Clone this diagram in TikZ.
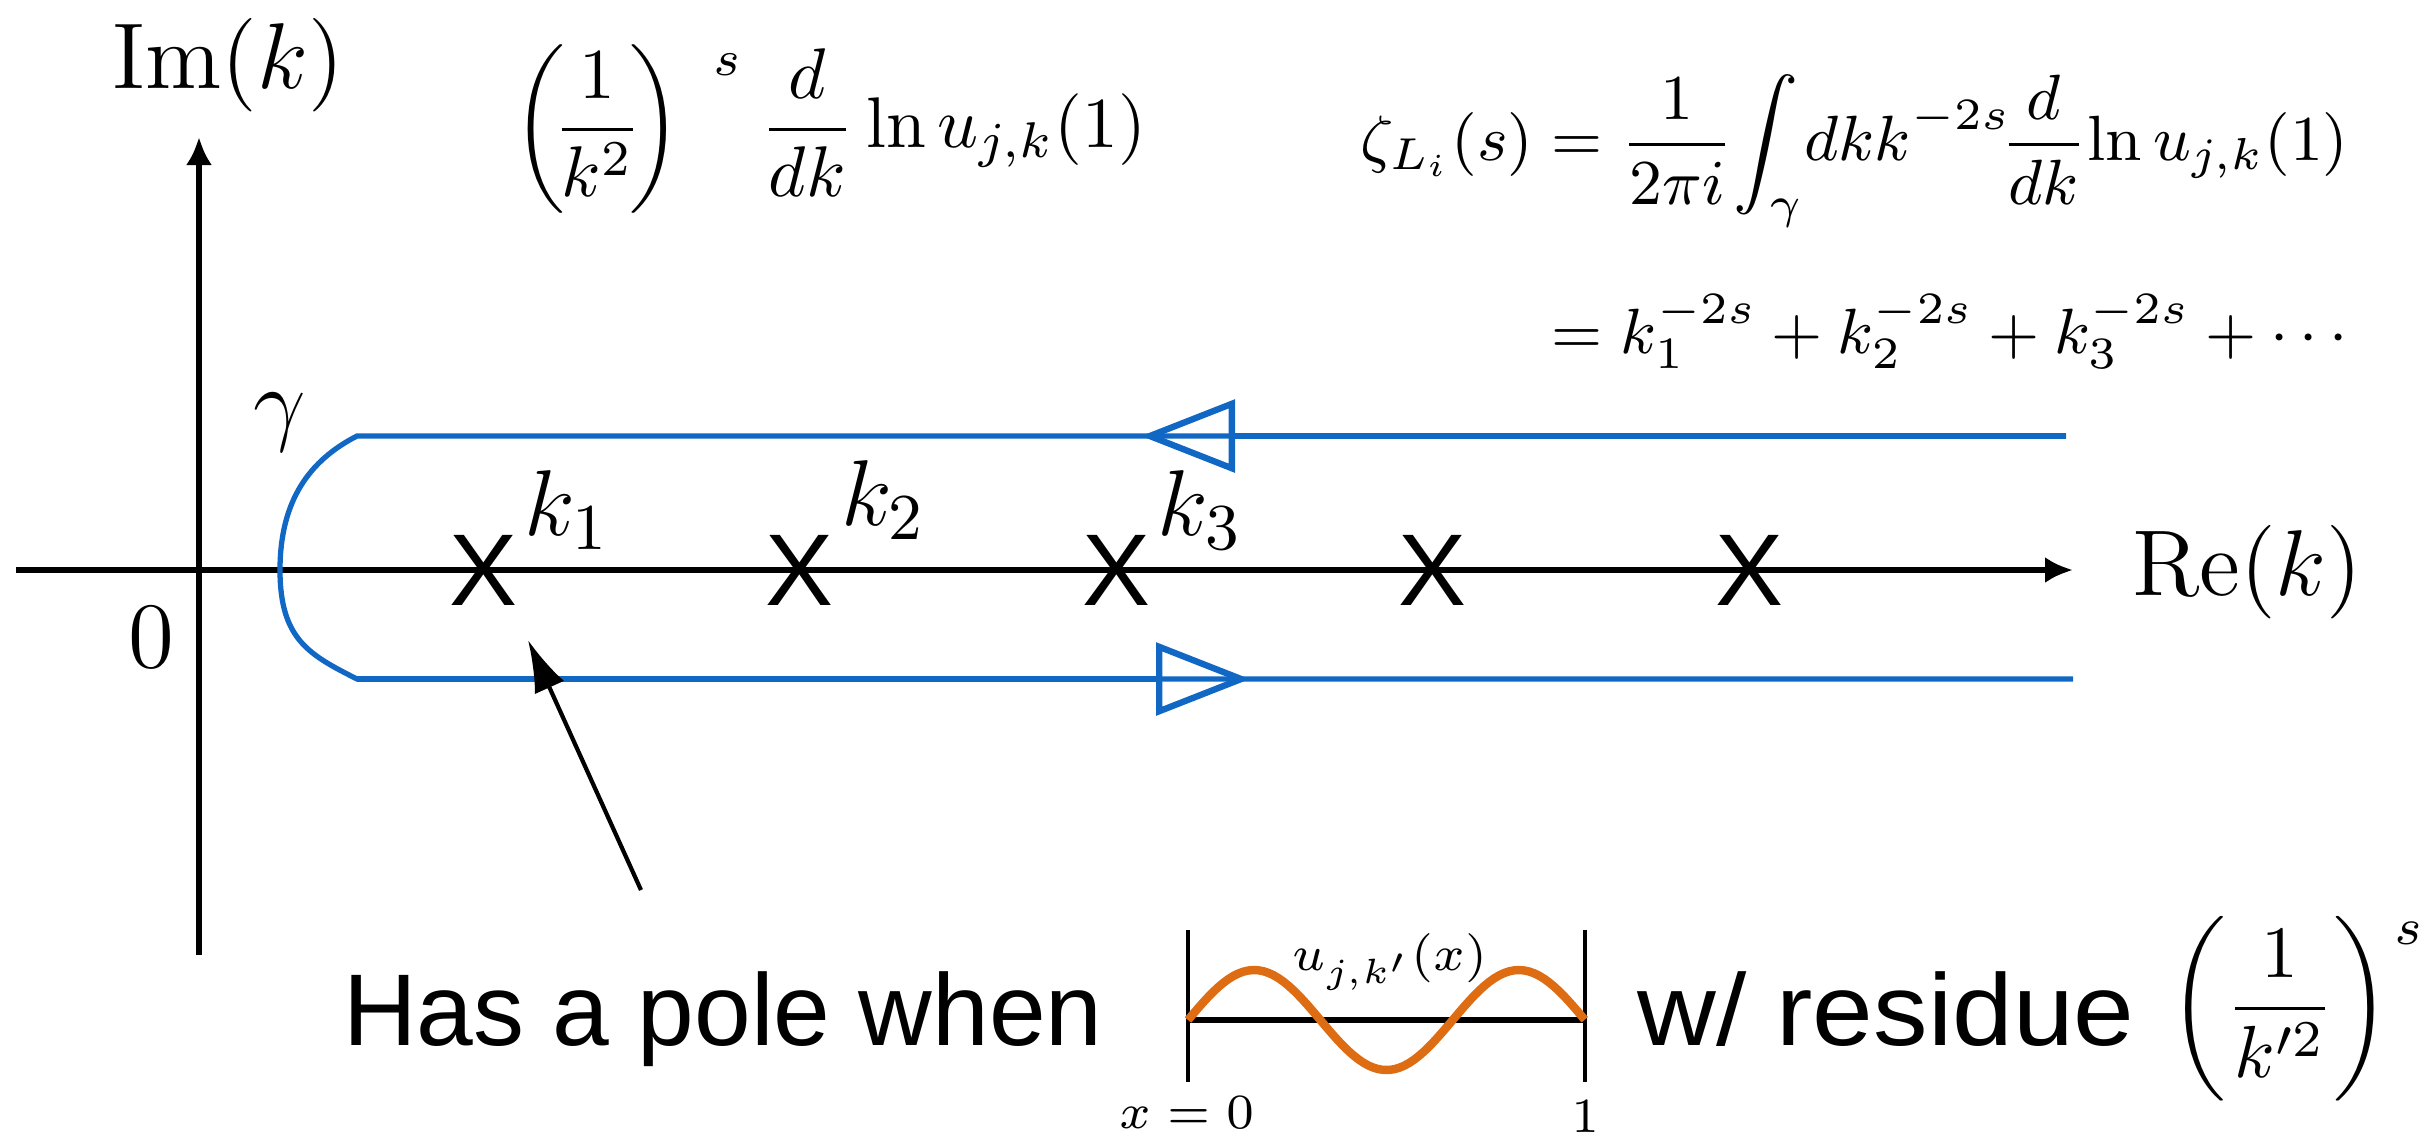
\RequirePackage{fix-cm}
\documentclass[tikz,border=0pt]{standalone}
\usepackage{amsmath}
\usepackage{graphicx}
\usepackage{fontspec}
\newfontfamily\helv{Liberation Sans}
\usetikzlibrary{arrows.meta}
\definecolor{contourblue}{RGB}{16,103,196}
\definecolor{waveorange}{RGB}{222,108,18}
\newcommand{\supS}[1]{\raisebox{#1}{$\scriptstyle s$}}
\begin{document}
\begin{tikzpicture}
[x=0.5cm,y=-0.5cm,
 axis/.style={line width=0.75pt,-{Latex[length=1.4mm,width=1.3mm]}},
 contour/.style={contourblue,line width=0.75pt},
 opentip/.style={-{Triangle[open,length=4.7mm,width=3.6mm,line width=0.9pt]}},
 lbl/.style={inner sep=0pt,font=\fontsize{13.3}{16}\selectfont},
 sans/.style={inner sep=0pt,font=\fontsize{14.5}{17}\selectfont\helv},
 small/.style={inner sep=0pt,font=\fontsize{7}{8.5}\selectfont}]
\useasboundingbox (0,0) rectangle (24.35,11.35);
\def \n {5}
\def \gap {3.165}
% axes
\coordinate (xl) at (0.16,5.70);
\coordinate (xr) at (20.73,5.70);
\coordinate (yb) at (1.99,9.55);
\coordinate (yt) at (1.99,1.37);
\draw[axis] (xl) -- (xr);
\draw[axis] (yb) -- (yt);
\node[lbl] (im) at (2.28,0.65) {Im$(k)$};
\node[lbl] (re) at (22.47,5.72) {Re$(k)$};
\node[lbl] (zero) at (1.51,6.37) {$0$};
% contour gamma
\coordinate (ur) at (20.66,4.36);
\coordinate (ul) at (3.57,4.36);
\coordinate (lf) at (2.80,5.70);
\coordinate (ll) at (3.57,6.79);
\coordinate (lr) at (20.73,6.79);
\coordinate (ua) at (11.41,4.36);
\coordinate (la) at (12.50,6.79);
\draw[contour] (ur) -- (ul) .. controls (3.10,4.60) and (2.80,5.00) .. (lf)
  .. controls (2.80,6.40) and (3.10,6.55) .. (ll) -- (lr);
\draw[contour,opentip] (ur) -- (ua);
\draw[contour,opentip] (ll) -- (la);
\node[lbl] (gam) at (2.80,4.22) {$\gamma$};
% poles
\foreach \i in {1,...,\n}
{
  \node[sans] (x\i) at ({4.83+\gap*(\i-1)},5.70) {X};
}
\foreach \i/\dy in {1/0,2/-0.1,3/0}
{
  \node[lbl] (k\i) at ({5.67+\gap*(\i-1)},5.10+\dy) {$k_{\i}$};
}
% formulas
\node[inner sep=0pt,font=\fontsize{10.2}{12}\selectfont,anchor=base west] (integrand) at (5.12,1.47)
  {$\displaystyle\left(\!\frac{1}{k^2}\!\right)\mkern5mu\supS{1.0em}\mkern5mu\frac{d}{dk}\ln u_{j,k}(1)$};
\node[inner sep=0pt,font=\fontsize{9.1}{11}\selectfont,anchor=north east] (zeta) at (23.50,0.73)
  {$\begin{aligned}\zeta_{L_i}(s)&=\frac{1}{2\pi i}\!\int_\gamma\! dk k^{-2s}\!\frac{d}{dk}\!\ln u_{j,k}(1)\\[5.5pt]
  &=k_1^{-2s}+k_2^{-2s}+k_3^{-2s}+\cdots\end{aligned}$};
% bottom line
\node[sans,anchor=base west] (pole) at (3.42,10.45) {Has a pole when};
\node[sans,anchor=base west] (resid) at (16.36,10.45) {\scalebox{1.07}[1]{w/ residue}};
\node[inner sep=0pt,font=\fontsize{10.5}{12.6}\selectfont,anchor=base west] (res) at (21.68,10.27)
  {$\displaystyle\biggl(\frac{1}{k'^2}\biggr)\mkern1mu\supS{1.12em}$};
\coordinate (pa) at (6.41,8.90);
\coordinate (pb) at (5.28,6.40);
\draw[line width=0.6pt,-{Latex[length=2.6mm,width=1.6mm]}] (pa) -- (pb);
% mode picture
\coordinate (bl) at (11.88,10.20);
\coordinate (br) at (15.85,10.20);
\coordinate (blt) at (11.88,9.30);
\coordinate (blb) at (11.88,10.82);
\coordinate (brt) at (15.85,9.30);
\coordinate (brb) at (15.85,10.82);
\draw[line width=0.6pt] (blt) -- (blb);
\draw[line width=0.6pt] (brt) -- (brb);
\draw[line width=0.8pt] (bl) -- (br);
\draw[waveorange,line width=1.2pt] plot[domain=0:1,samples=80] ({11.88+3.97*\x},{10.20-0.5*sin(540*\x)});
\node[small] (u) at (13.90,9.62) {$u_{j,k'}(x)$};
\node[small] (x0) at (11.87,11.13) {$x=0$};
\node[small] (x1) at (15.85,11.17) {$1$};
\end{tikzpicture}
\end{document}
